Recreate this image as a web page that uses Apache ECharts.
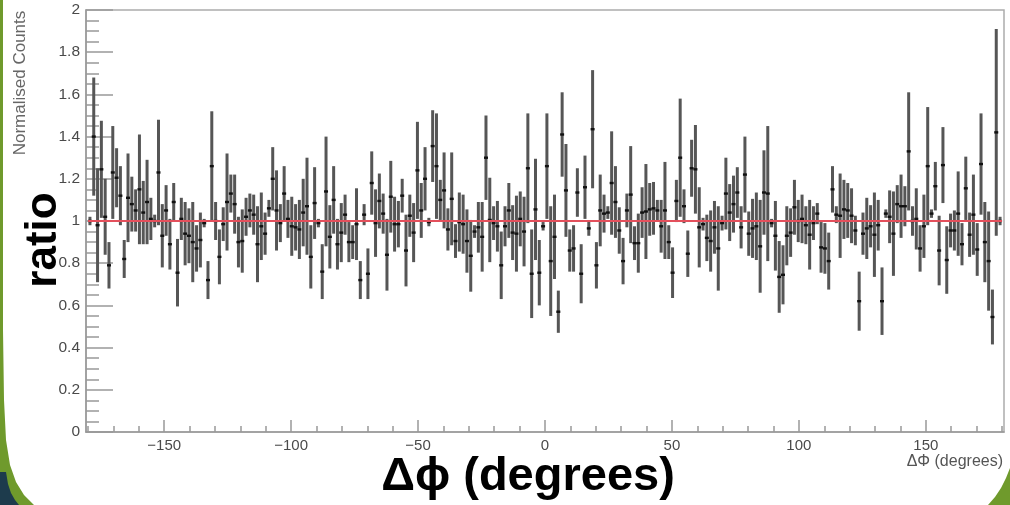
<!DOCTYPE html>
<html>
<head>
<meta charset="utf-8">
<script src="https://cdn.jsdelivr.net/npm/echarts@6/dist/echarts.min.js"></script>
<style>
  html, body { margin: 0; padding: 0; background: #fff; }
  #chart { width: 1010px; height: 505px; }
</style>
</head>
<body>
<div id="chart"></div>
<script>
// Δφ histogram: 240 bins of 1.5° from -180° to 180°
const binLow = -180;
const binWidth = 1.5;

// bin contents (ratio to flat expectation)
const ratio = [
  1.00, 1.40, 0.98, 1.245, 1.02, 0.79, 1.23, 1.205, 1.12, 0.82,
  1.11, 1.08, 1.05, 1.15, 1.04, 1.09, 1.01, 1.00, 1.23, 0.93,
  1.05, 0.89, 1.09, 0.755, 1.01, 0.94, 0.93, 0.90, 0.87, 0.91,
  0.99, 0.72, 1.26, 1.00, 0.83, 0.985, 1.09, 1.13, 1.08, 0.90,
  0.905, 1.02, 1.05, 1.03, 0.89, 0.975, 0.94, 1.06, 1.20, 1.05,
  0.99, 1.13, 1.01, 0.975, 0.97, 0.96, 1.04, 1.07, 0.83, 1.085,
  0.99, 0.76, 1.14, 0.925, 1.10, 0.89, 0.945, 1.03, 0.90, 0.90,
  0.985, 0.72, 1.03, 0.75, 1.18, 0.99, 1.095, 1.035, 0.84, 1.115,
  0.985, 0.985, 1.12, 0.86, 1.025, 0.945, 1.24, 1.05, 1.20, 0.995,
  1.355, 1.26, 1.10, 1.145, 0.96, 1.105, 0.905, 0.995, 0.985, 0.905,
  0.835, 0.95, 0.97, 0.925, 1.30, 1.005, 0.99, 0.975, 0.79, 0.975,
  1.05, 0.945, 0.94, 1.01, 0.95, 1.25, 0.75, 1.055, 0.755, 0.975,
  1.26, 0.81, 0.925, 0.57, 1.41, 1.145, 0.86, 0.87, 1.135, 0.75,
  1.16, 0.965, 1.435, 0.79, 1.05, 1.035, 1.04, 1.18, 1.09, 0.955,
  0.81, 1.05, 1.125, 0.895, 0.895, 1.04, 1.045, 1.055, 1.06, 1.05,
  0.975, 1.05, 0.90, 0.755, 1.095, 1.30, 1.07, 0.845, 1.25, 1.245,
  0.97, 0.985, 0.92, 0.905, 0.97, 0.87, 0.99, 1.13, 1.04, 1.08,
  1.135, 0.97, 1.22, 0.94, 0.965, 0.975, 0.88, 1.135, 1.13, 0.99,
  0.93, 0.735, 0.745, 0.93, 0.945, 1.065, 1.00, 1.01, 0.98, 0.935,
  0.99, 1.035, 0.875, 0.87, 0.81, 1.15, 1.03, 1.025, 1.055, 1.05,
  1.025, 0.955, 0.62, 0.94, 0.965, 0.975, 0.935, 0.98, 0.62, 1.035,
  1.02, 0.94, 1.08, 1.07, 1.07, 1.33, 1.00, 1.01, 0.87, 0.975,
  1.26, 1.035, 1.165, 0.86, 1.265, 0.815, 0.955, 0.955, 1.035, 0.89,
  1.155, 0.935, 1.03, 0.865, 1.27, 0.90, 0.81, 0.545, 1.42, 1.00
];

// statistical uncertainty of each bin
const ratioErr = [
  0.02, 0.28, 0.27, 0.23, 0.18, 0.11, 0.22, 0.14, 0.14, 0.09,
  0.21, 0.13, 0.10, 0.26, 0.15, 0.20, 0.10, 0.03, 0.25, 0.15,
  0.12, 0.12, 0.09, 0.16, 0.10, 0.15, 0.13, 0.19, 0.11, 0.13,
  0.02, 0.09, 0.26, 0.09, 0.13, 0.08, 0.23, 0.09, 0.14, 0.12,
  0.15, 0.09, 0.08, 0.095, 0.18, 0.16, 0.10, 0.04, 0.15, 0.19,
  0.09, 0.13, 0.09, 0.14, 0.11, 0.14, 0.16, 0.23, 0.15, 0.17,
  0.02, 0.13, 0.26, 0.15, 0.16, 0.12, 0.14, 0.095, 0.095, 0.08,
  0.17, 0.09, 0.05, 0.12, 0.15, 0.16, 0.13, 0.095, 0.17, 0.17,
  0.13, 0.11, 0.08, 0.17, 0.10, 0.14, 0.23, 0.13, 0.15, 0.02,
  0.17, 0.25, 0.095, 0.18, 0.10, 0.22, 0.08, 0.14, 0.14, 0.15,
  0.17, 0.03, 0.12, 0.165, 0.20, 0.20, 0.08, 0.12, 0.16, 0.095,
  0.13, 0.13, 0.18, 0.13, 0.165, 0.26, 0.21, 0.24, 0.155, 0.02,
  0.25, 0.26, 0.20, 0.10, 0.20, 0.22, 0.10, 0.11, 0.115, 0.14,
  0.15, 0.035, 0.28, 0.11, 0.17, 0.09, 0.03, 0.245, 0.17, 0.11,
  0.11, 0.08, 0.23, 0.08, 0.14, 0.12, 0.225, 0.125, 0.125, 0.05,
  0.125, 0.23, 0.08, 0.12, 0.10, 0.28, 0.08, 0.11, 0.135, 0.21,
  0.19, 0.03, 0.11, 0.145, 0.125, 0.20, 0.035, 0.17, 0.135, 0.135,
  0.12, 0.10, 0.18, 0.105, 0.14, 0.16, 0.22, 0.20, 0.32, 0.02,
  0.165, 0.17, 0.14, 0.14, 0.115, 0.13, 0.10, 0.115, 0.09, 0.165,
  0.08, 0.05, 0.12, 0.12, 0.135, 0.11, 0.04, 0.20, 0.14, 0.13,
  0.13, 0.07, 0.14, 0.10, 0.145, 0.10, 0.20, 0.12, 0.16, 0.02,
  0.125, 0.20, 0.09, 0.15, 0.095, 0.28, 0.07, 0.145, 0.11, 0.15,
  0.28, 0.02, 0.115, 0.165, 0.18, 0.16, 0.08, 0.095, 0.20, 0.10,
  0.15, 0.105, 0.19, 0.125, 0.24, 0.19, 0.235, 0.13, 0.49, 0.02
];

// constant fit to the ratio
const fitLevel = 1.0;
const fitRange = [-180, 180];

// axis tick positions
const xMajorTicks = [-150, -100, -50, 0, 50, 100, 150];
const xMinorTicks = [-180, -170, -160, -140, -130, -120, -110, -90, -80, -70, -60,
  -40, -30, -20, -10, 10, 20, 30, 40, 60, 70, 80, 90, 110, 120, 130, 140, 160, 170, 180];

const FONT = '"Liberation Sans", Arial, Helvetica, sans-serif';
const AXIS_GREY = '#999999';
const LABEL_GREY = '#4a4a4a';

const points = ratio.map((v, i) => [binLow + binWidth * (i + 0.5), v, ratioErr[i]]);

function renderErrorBar(params, api) {
  const x = api.value(0);
  const v = api.value(1);
  const e = api.value(2);
  const top = api.coord([x, v + e]);
  const bot = api.coord([x, v - e]);
  const mid = api.coord([x, v]);
  return {
    type: 'group',
    children: [
      {
        type: 'line',
        shape: { x1: top[0], y1: top[1], x2: bot[0], y2: bot[1] },
        style: { stroke: '#565656', lineWidth: 3 }
      },
      {
        type: 'rect',
        shape: { x: mid[0] - 2, y: mid[1] - 1.2, width: 4, height: 2.4 },
        style: { fill: '#111' }
      }
    ]
  };
}

const chart = echarts.init(document.getElementById('chart'), null, { renderer: 'canvas' });

chart.setOption({
  animation: false,
  backgroundColor: '#ffffff',
  grid: {
    left: 86, top: 10, width: 918, height: 422,
    show: true, borderColor: '#acacac', borderWidth: 1.5, backgroundColor: 'transparent'
  },
  xAxis: [
    {
      type: 'value', min: -180.8, max: 180.8,
      splitLine: { show: false },
      axisLine: { show: true, onZero: false, lineStyle: { color: AXIS_GREY, width: 1.5 } },
      axisTick: { show: true, inside: true, length: 12, customValues: xMajorTicks,
        lineStyle: { color: AXIS_GREY, width: 1.5 } },
      axisLabel: {
        customValues: xMajorTicks,
        formatter: v => String(v).replace('-', '\u2212'),
        color: LABEL_GREY, fontSize: 15, fontFamily: FONT, margin: 6
      }
    },
    {
      type: 'value', min: -180.8, max: 180.8, position: 'bottom',
      splitLine: { show: false },
      axisLine: { show: false },
      axisTick: { show: true, inside: true, length: 6, customValues: xMinorTicks,
        lineStyle: { color: AXIS_GREY, width: 1.5 } },
      axisLabel: { show: false }
    }
  ],
  yAxis: {
    type: 'value', min: 0, max: 2, interval: 0.2,
    splitLine: { show: false },
    axisLine: { show: true, onZero: false, lineStyle: { color: AXIS_GREY, width: 1.5 } },
    axisTick: { show: true, inside: true, length: 27, lineStyle: { color: AXIS_GREY, width: 1.5 } },
    minorTick: { show: true, splitNumber: 4, length: 13, lineStyle: { color: AXIS_GREY, width: 1.5 } },
    axisLabel: { color: LABEL_GREY, fontSize: 15.5, fontFamily: FONT, margin: 6 }
  },
  series: [
    {
      type: 'custom',
      xAxisIndex: 0,
      renderItem: renderErrorBar,
      data: points,
      encode: { x: 0, y: 1 },
      z: 2,
      silent: true
    },
    {
      type: 'line',
      xAxisIndex: 0,
      data: fitRange.map(x => [x, fitLevel]),
      symbol: 'none',
      lineStyle: { color: '#e3505c', width: 2 },
      z: 3,
      silent: true
    }
  ],
  graphic: [
    // slide decoration: green band on the left with dark corner
    {
      type: 'polygon', z: 0,
      shape: { points: [[0, 0], [3, 0], [3, 330], [4, 400], [6, 440], [10, 465], [16, 482], [24, 495], [34, 505], [0, 505]] },
      style: { fill: '#6f9a2c' }
    },
    {
      type: 'polygon', z: 1,
      shape: { points: [[0, 472], [6, 472], [8, 484], [11, 493], [15, 500], [19, 505], [0, 505]] },
      style: { fill: '#1d3b4c' }
    },
    {
      type: 'polygon', z: 0,
      shape: { points: [[1010, 468], [1006, 478], [1001, 488], [995, 497], [988, 505], [1010, 505]] },
      style: { fill: '#6f9a2c' }
    },
    // titles
    {
      type: 'text', x: 20, y: 83, rotation: Math.PI / 2,
      style: { text: 'Normalised Counts', x: 0, y: 0, align: 'center', verticalAlign: 'middle',
        font: '17px ' + FONT, fill: '#666' }
    },
    {
      type: 'text', x: 44, y: 240, rotation: Math.PI / 2,
      style: { text: 'ratio', x: 0, y: 0, align: 'center', verticalAlign: 'middle',
        font: 'bold 44px ' + FONT, fill: '#000' }
    },
    {
      type: 'text', x: 1003, y: 462,
      style: { text: '\u0394\u03A6 (degrees)', x: 0, y: 0, align: 'right', verticalAlign: 'middle',
        font: '16px ' + FONT, fill: '#555' }
    },
    {
      type: 'text', x: 528, y: 477,
      style: { text: '\u0394\u03D5 (degrees)', x: 0, y: 0, align: 'center', verticalAlign: 'middle',
        font: 'bold 47px ' + FONT, fill: '#000' }
    }
  ]
});
</script>
</body>
</html>
